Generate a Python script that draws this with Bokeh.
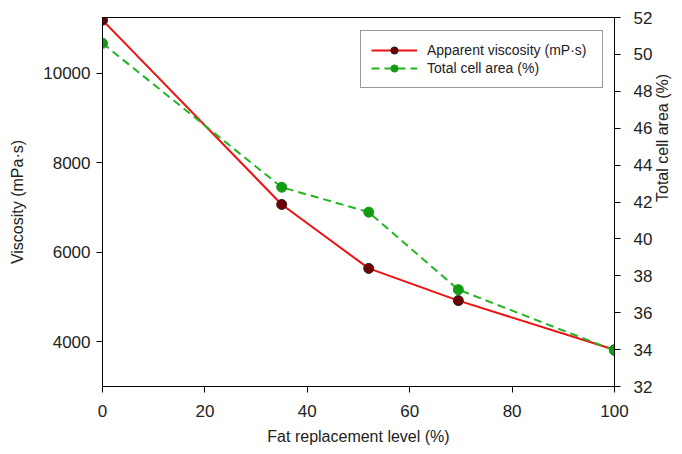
import math
from bokeh.plotting import figure
from bokeh.models import Range1d, LinearAxis, FixedTicker, Legend, LegendItem
from bokeh.embed import file_html
from bokeh.resources import INLINE

fat_level = [0, 35, 52, 69.5, 100]
viscosity = [11190, 7070, 5640, 4920, 3820]
cell_area = [50.6, 42.8, 41.45, 37.25, 33.95]

x_ticks = [0, 20, 40, 60, 80, 100]
visc_ticks = [4000, 6000, 8000, 10000]
area_ticks = [32, 34, 36, 38, 40, 42, 44, 46, 48, 50, 52]

FONT = "Liberation Sans"
W, H = 682, 452
FL, FT, FR, FB = 102, 17, 615, 386

p = figure(width=W, height=H, output_backend="svg", toolbar_location=None,
           x_range=Range1d(0, 100), y_range=Range1d(3000, 11250),
           min_border_left=FL, min_border_right=W - FR, min_border_top=FT,
           min_border_bottom=H - FB)
p.extra_y_ranges = {"area": Range1d(32, 52)}
p.xgrid.visible = False
p.ygrid.visible = False
p.outline_line_color = "black"
p.outline_line_alpha = 1
p.background_fill_color = "white"
p.border_fill_color = "white"

def style(ax):
    ax.axis_line_color = "black"
    ax.major_tick_line_color = "black"
    ax.minor_tick_line_color = None
    ax.major_tick_in = 0
    ax.major_tick_out = 6
    ax.major_label_text_font = FONT
    ax.major_label_text_font_size = "17px"
    ax.major_label_text_color = "#222222"
    ax.axis_label_text_font = FONT
    ax.axis_label_text_font_size = "16px"
    ax.axis_label_text_font_style = "normal"
    ax.axis_label_text_color = "#222222"

p.xaxis.ticker = FixedTicker(ticks=x_ticks)
p.xaxis.axis_label = "Fat replacement level (%)"
p.yaxis.ticker = FixedTicker(ticks=visc_ticks)
p.yaxis.axis_label = "Viscosity (mPa·s)"
style(p.xaxis[0])
style(p.yaxis[0])
p.xaxis.major_label_standoff = 12
p.xaxis.axis_label_standoff = 8
p.yaxis.major_label_standoff = 6
p.yaxis.axis_label_standoff = 14

ry = LinearAxis(y_range_name="area", ticker=FixedTicker(ticks=area_ticks),
                axis_label="Total cell area (%)")
style(ry)
ry.major_label_standoff = 13
ry.axis_label_standoff = 7
try:
    ry.axis_label_orientation = math.pi / 2
except Exception:
    pass
p.add_layout(ry, "right")

r1 = p.line(fat_level, viscosity, line_color="#ee1111", line_width=2)
r1m = p.scatter(fat_level, viscosity, size=10, fill_color="#700000", line_color="#222222")
r2 = p.line(fat_level, cell_area, line_color="#22b422", line_width=2, line_dash="8 5",
            y_range_name="area")
r2m = p.scatter(fat_level, cell_area, size=10, fill_color="#129c12", line_color="#129c12",
                y_range_name="area")

legend = Legend(items=[LegendItem(label="Apparent viscosity (mP·s)", renderers=[r1, r1m]),
                       LegendItem(label="Total cell area (%)", renderers=[r2, r2m])],
                location=(258, 298))
legend.label_text_font = FONT
legend.label_text_font_size = "14px"
legend.label_text_color = "#222222"
legend.border_line_color = "#333333"
legend.glyph_width = 46
legend.glyph_height = 18
legend.label_height = 18
legend.label_width = 165
legend.spacing = 0
legend.padding = 10
legend.margin = 0
legend.label_standoff = 10
p.add_layout(legend)

open("out.html", "w").write(file_html(p, INLINE))
